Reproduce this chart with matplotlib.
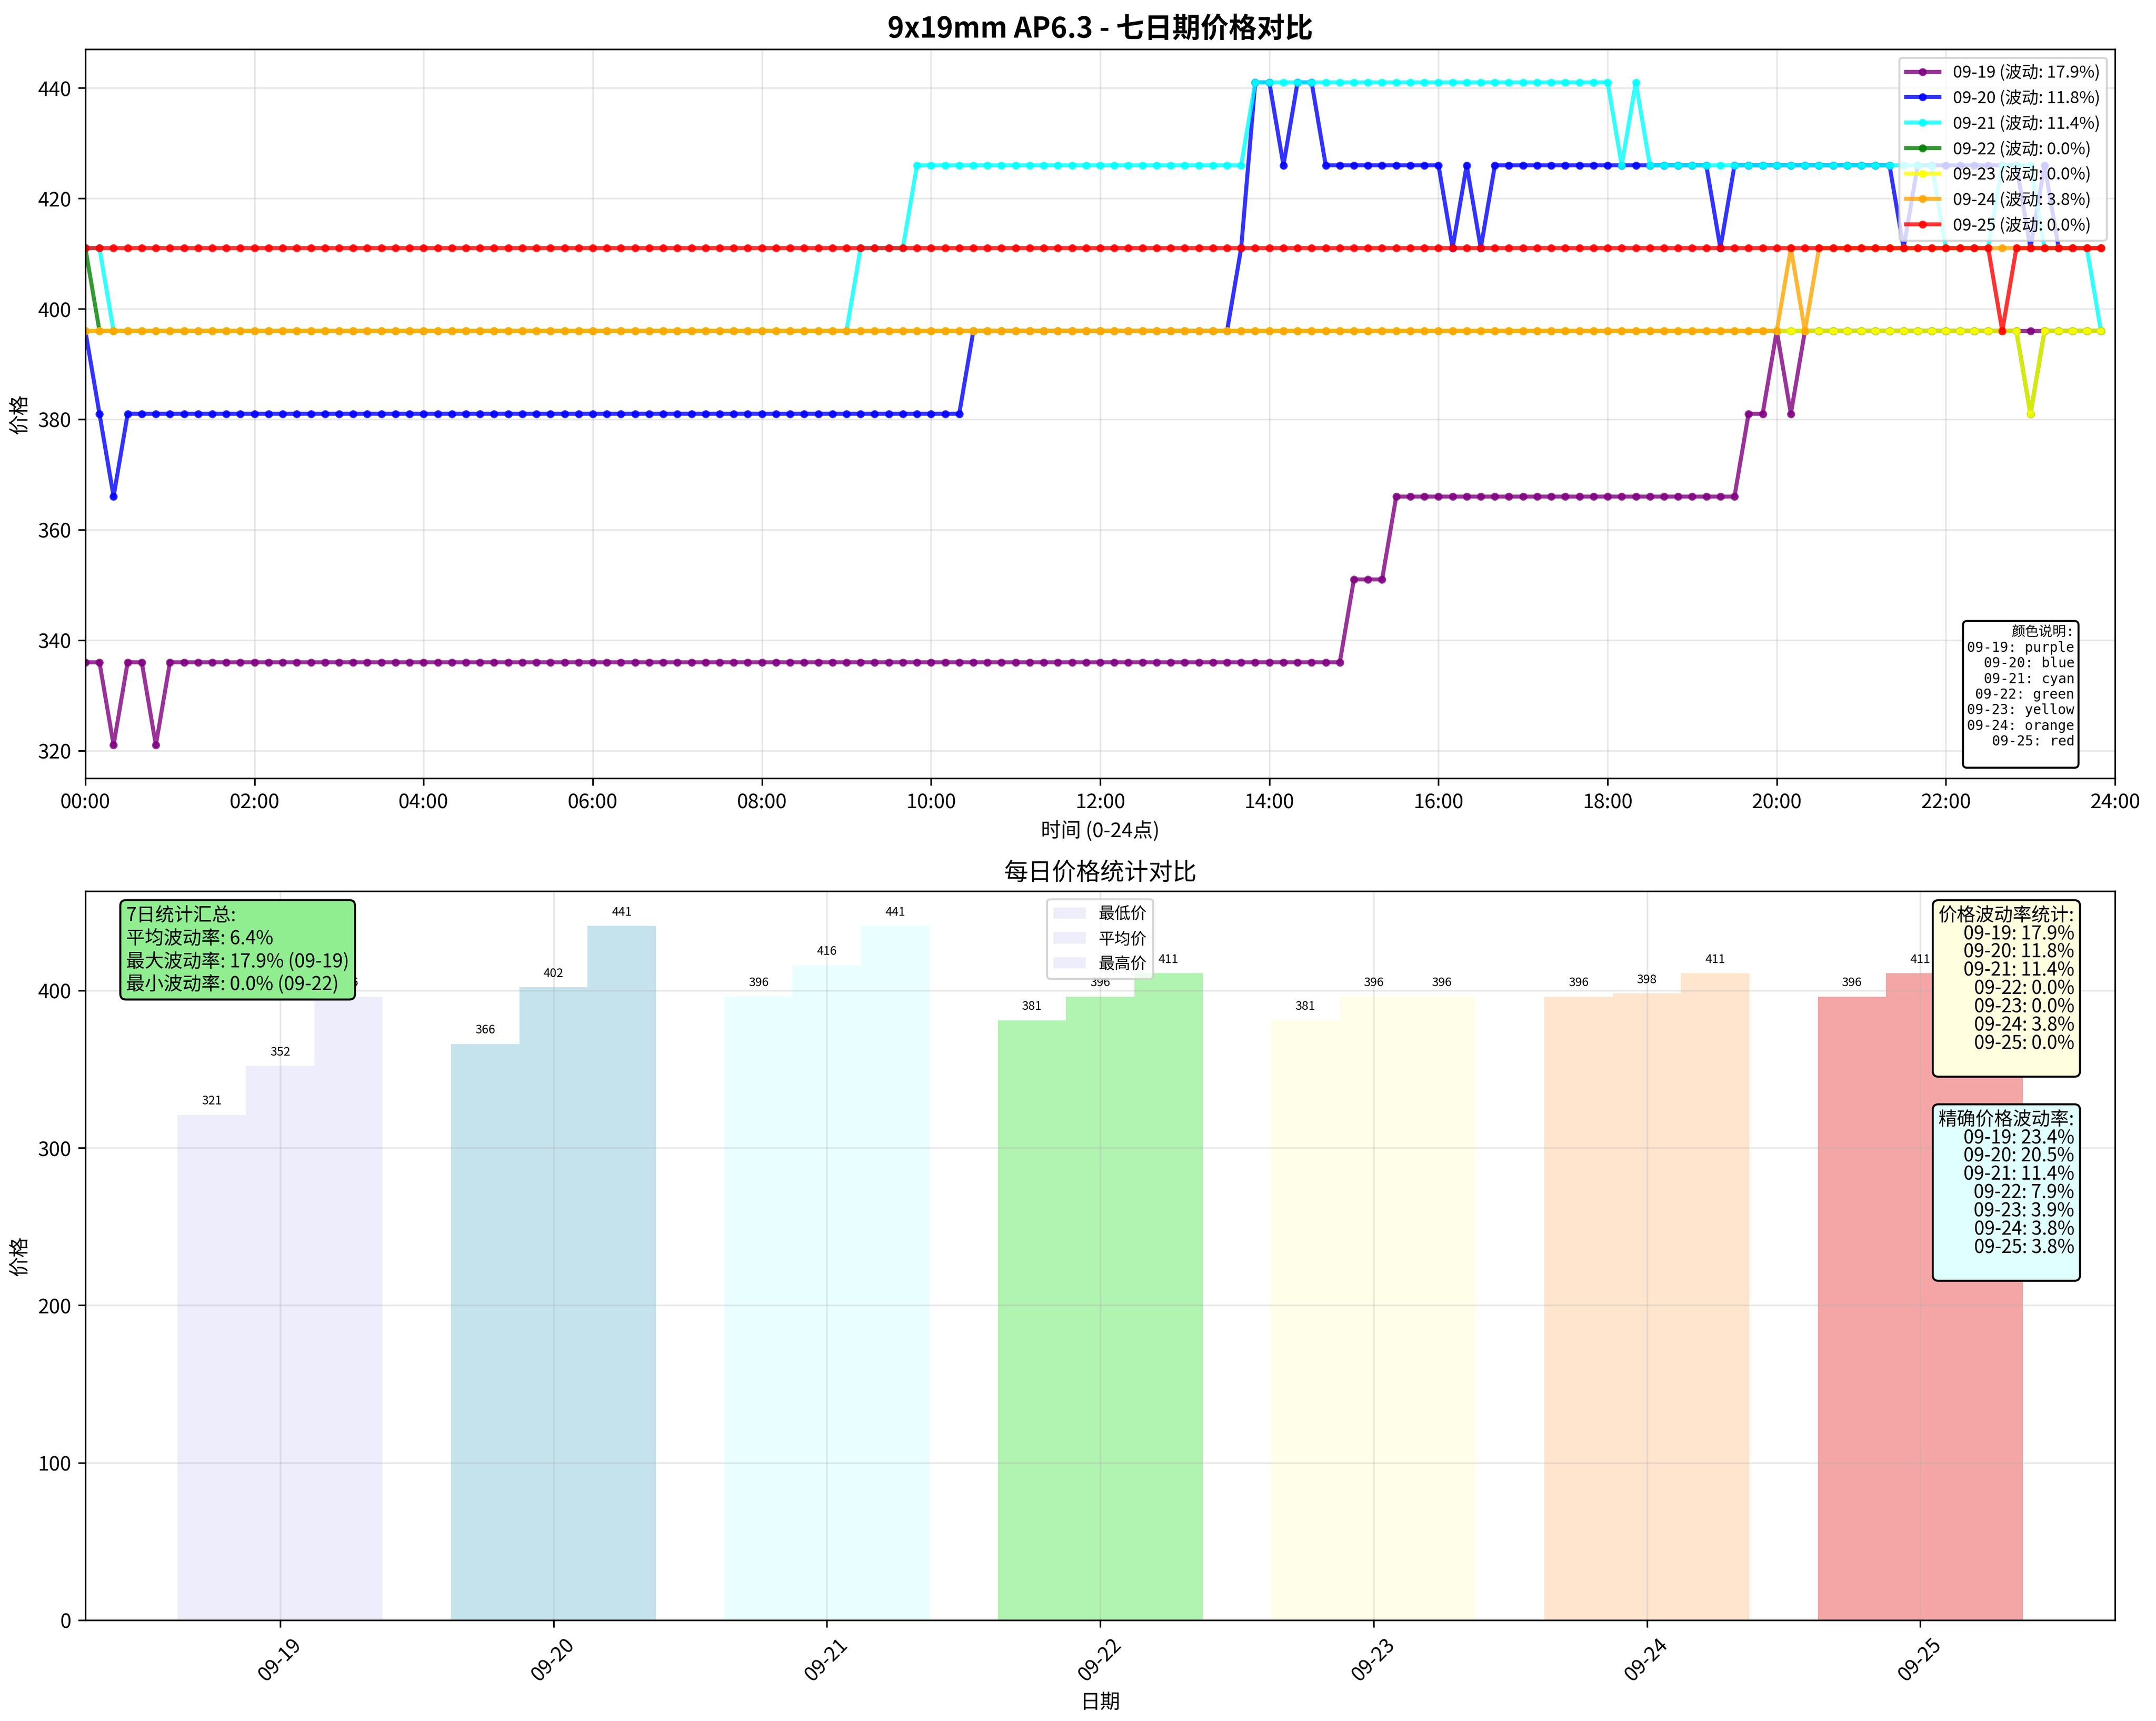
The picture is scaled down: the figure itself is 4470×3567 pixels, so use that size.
import numpy as np
import matplotlib
matplotlib.use('Agg')
import matplotlib.pyplot as plt

plt.rcParams['font.family'] = ['Noto Sans CJK SC', 'DejaVu Sans']
plt.rcParams['axes.unicode_minus'] = False

dates = ['09-19', '09-20', '09-21', '09-22', '09-23', '09-24', '09-25']
line_colors = ['purple', 'blue', 'cyan', 'green', 'yellow', 'orange', 'red']
color_names = ['purple', 'blue', 'cyan', 'green', 'yellow', 'orange', 'red']
bar_colors = ['lavender', 'lightblue', 'lightcyan', 'lightgreen', 'lightyellow', 'peachpuff', 'lightcoral']

# 每10分钟一个价格, (价格, 连续点数)
price_09_19 = [(336, 2), (321, 1), (336, 2), (321, 1), (336, 84), (351, 3), (366, 25),
               (381, 2), (396, 1), (381, 1), (396, 22)]
price_09_20 = [(396, 1), (381, 1), (366, 1), (381, 60), (396, 19), (411, 1), (441, 2),
               (426, 1), (441, 2), (426, 9), (411, 1), (426, 1), (411, 1), (426, 16),
               (411, 1), (426, 12), (411, 1), (426, 8), (411, 1), (426, 1), (411, 4)]
price_09_21 = [(411, 2), (396, 53), (411, 4), (426, 24), (441, 26), (426, 1), (441, 1),
               (426, 21), (411, 4), (426, 3), (411, 4), (396, 1)]
price_09_22 = [(411, 1), (396, 137), (381, 1), (396, 5)]
price_09_23 = [(396, 138), (381, 1), (396, 5)]
price_09_24 = [(396, 121), (411, 1), (396, 1), (411, 21)]
price_09_25 = [(411, 136), (396, 1), (411, 7)]
runs = [price_09_19, price_09_20, price_09_21, price_09_22, price_09_23, price_09_24, price_09_25]

volatility = [17.9, 11.8, 11.4, 0.0, 0.0, 3.8, 0.0]
precise_volatility = [23.4, 20.5, 11.4, 7.9, 3.9, 3.8, 3.8]

min_prices = [321, 366, 396, 381, 381, 396, 396]
avg_prices = [352, 402, 416, 396, 396, 398, 411]
max_prices = [396, 441, 441, 411, 396, 411, 411]

minutes = np.arange(0, 24 * 60, 10)
hours = minutes / 60

fig, (ax1, ax2) = plt.subplots(2, 1, figsize=(14.9, 11.893))
fig.subplots_adjust(left=0.0396, right=0.981, top=0.9711, bottom=0.0586, hspace=0.155)

# 上图: 七日价格曲线
for d, r, c, v in zip(dates, runs, line_colors, volatility):
    prices = np.repeat([p for p, n in r], [n for p, n in r])
    ax1.plot(hours, prices, color=c, linewidth=2, marker='o', markersize=3,
             alpha=0.8, label=f'{d} (波动: {v:.1f}%)')

ax1.set_title('9x19mm AP6.3 - 七日期价格对比', fontsize=14, fontweight='bold')
ax1.set_xlabel('时间 (0-24点)')
ax1.set_ylabel('价格')
ax1.set_xlim(0, 24)
ax1.set_xticks(range(0, 25, 2))
ax1.set_xticklabels([f'{h:02d}:00' for h in range(0, 25, 2)])
ax1.grid(True, alpha=0.3)
ax1.legend(loc='upper right', fontsize=8.3)

color_text = '颜色说明:\n' + '\n'.join(f'{d}: {n}' for d, n in zip(dates, color_names)) + '\n'
ax1.text(0.98, 0.02, color_text, transform=ax1.transAxes, fontsize=6.8,
         ha='right', va='bottom', family=['DejaVu Sans Mono', 'Noto Sans CJK SC'],
         bbox=dict(boxstyle='round', facecolor='white'), zorder=5)

# 下图: 每日统计柱状图
x = np.arange(len(dates))
w = 0.25
b1 = ax2.bar(x - w, min_prices, w, color=bar_colors, alpha=0.7, label='最低价')
b2 = ax2.bar(x, avg_prices, w, color=bar_colors, alpha=0.7, label='平均价')
b3 = ax2.bar(x + w, max_prices, w, color=bar_colors, alpha=0.7, label='最高价')
for bars in (b1, b2, b3):
    for b in bars:
        h = b.get_height()
        ax2.text(b.get_x() + b.get_width() / 2, h + 5, f'{h:.0f}',
                 ha='center', va='bottom', fontsize=6)

ax2.set_title('每日价格统计对比', fontsize=12)
ax2.set_xlabel('日期')
ax2.set_ylabel('价格')
ax2.set_xticks(x)
ax2.set_xticklabels(dates, rotation=45)
ax2.grid(True, alpha=0.3)
ax2.legend(loc='upper center', fontsize=8)

max_i = int(np.argmax(volatility))
min_i = int(np.argmin(volatility))
summary = ('7日统计汇总:\n'
           f'平均波动率: {np.mean(volatility):.1f}%\n'
           f'最大波动率: {volatility[max_i]:.1f}% ({dates[max_i]})\n'
           f'最小波动率: {volatility[min_i]:.1f}% ({dates[min_i]})')
ax2.text(0.02, 0.98, summary, transform=ax2.transAxes, fontsize=9.4, linespacing=1.22,
         ha='left', va='top', bbox=dict(boxstyle='round', facecolor='lightgreen'), zorder=5)

vol_text = '价格波动率统计:\n' + '\n'.join(f'{d}: {v:.1f}%' for d, v in zip(dates, volatility)) + '\n'
ax2.text(0.98, 0.98, vol_text, transform=ax2.transAxes, fontsize=9.3, linespacing=0.93,
         ha='right', va='top', bbox=dict(boxstyle='round', facecolor='lightyellow'), zorder=5)

pvol_text = '精确价格波动率:\n' + '\n'.join(f'{d}: {v:.1f}%' for d, v in zip(dates, precise_volatility)) + '\n'
ax2.text(0.98, 0.70, pvol_text, transform=ax2.transAxes, fontsize=9.3, linespacing=0.93,
         ha='right', va='top', bbox=dict(boxstyle='round', facecolor='lightcyan'), zorder=5)

fig.savefig('out.png', dpi=300)
